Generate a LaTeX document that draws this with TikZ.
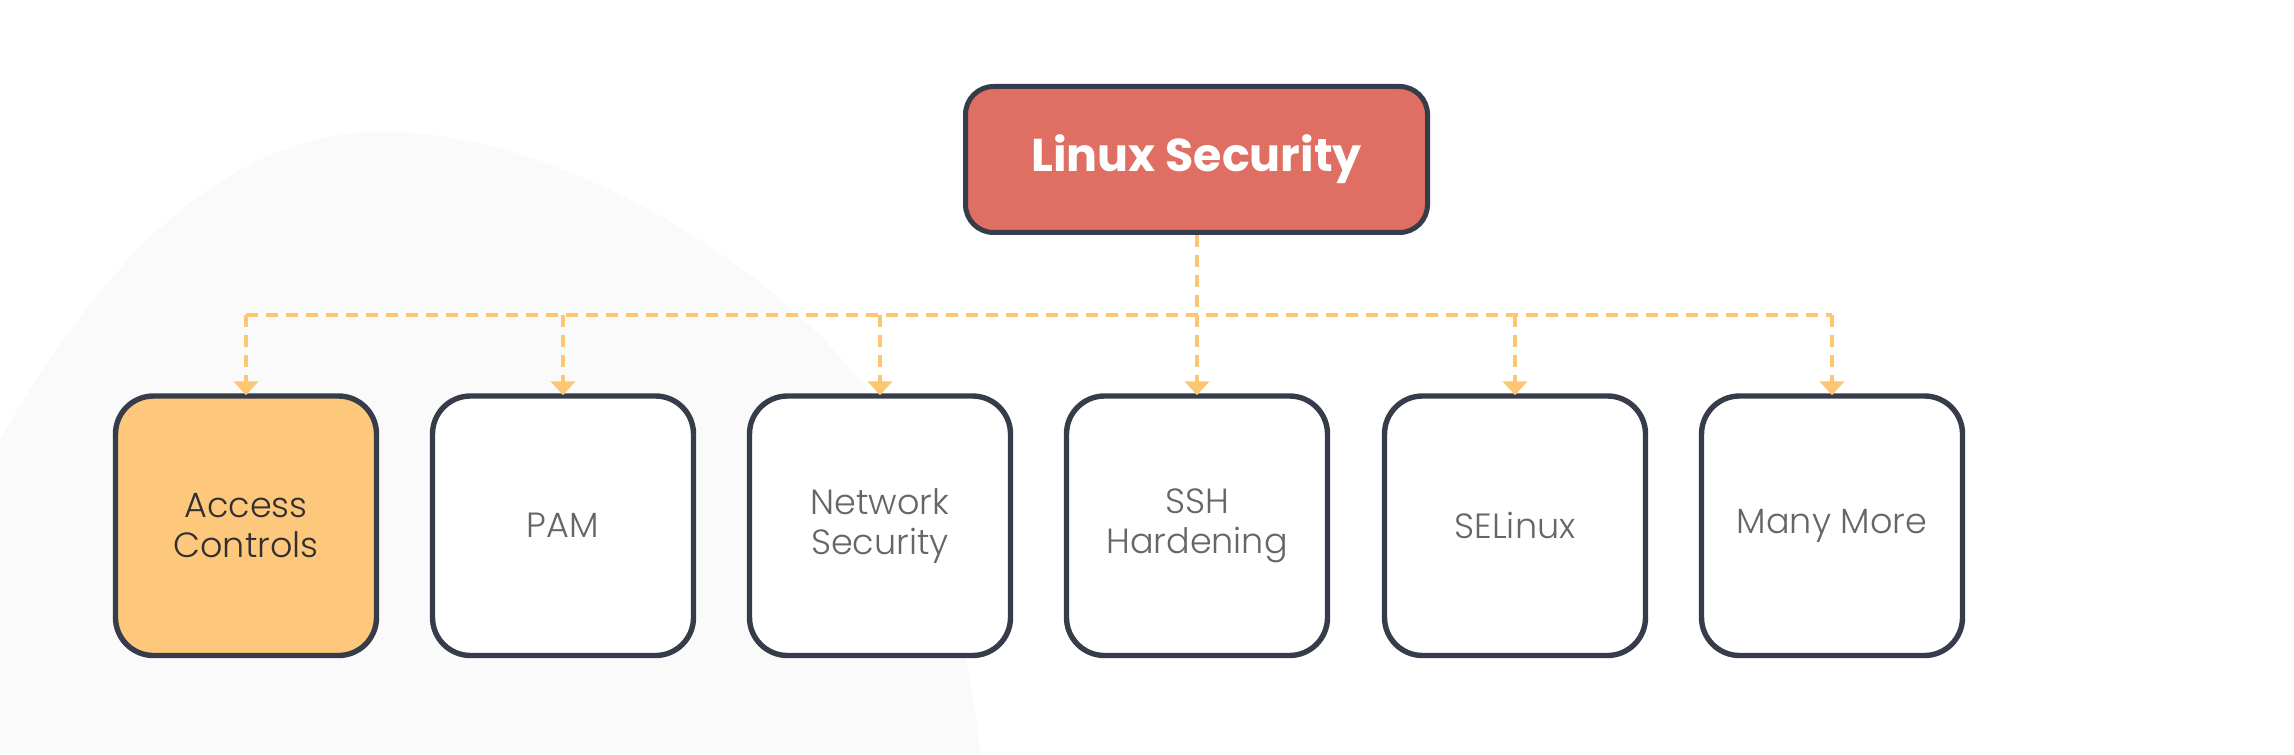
\documentclass[tikz,border=0pt]{standalone}
\usepackage{fontspec}
\setmainfont{Poppins}[UprightFont=* Light]
\newfontfamily\boldfont{Poppins}[UprightFont=* Bold]
\usetikzlibrary{arrows.meta}
\definecolor{topred}{HTML}{DE6F62}
\definecolor{navy}{HTML}{363C4A}
\definecolor{orangefill}{HTML}{FEC87C}
\definecolor{dashorange}{HTML}{FCC672}
\definecolor{textgrey}{HTML}{666666}
\definecolor{textdark}{HTML}{303030}
\definecolor{blob}{HTML}{FAFAFB}
\tikzset{
  topbox/.style={draw=navy, line width=2.5pt, fill=topred, rounded corners=14pt,
    minimum width=231pt, minimum height=73pt, inner sep=0pt,
    text=white, font=\boldfont\fontsize{23}{27}\selectfont},
  subbox/.style={draw=navy, line width=2.7pt, fill=white, rounded corners=19pt,
    minimum width=130.5pt, minimum height=129.75pt, inner sep=0pt,
    align=center, text=textgrey, font=\fontsize{17.5}{20}\selectfont},
  hilite/.style={fill=orangefill, text=textdark},
  link/.style={draw=dashorange, line width=2pt, dash pattern=on 6pt off 4pt},
  linkarrow/.style={link, -{Triangle[width=12pt,length=7pt]}, shorten >=-1pt}
}
\begin{document}
\begin{tikzpicture}[x=0.5pt, y=-0.5pt]
\useasboundingbox (0,0) rectangle (2294,754);
\fill[white] (0,0) rectangle (2294,754);
% faint background blob
\fill[blob] (0,440) .. controls (80,300) and (200,140) .. (370,132)
  .. controls (560,125) and (800,280) .. (880,410)
  .. controls (940,520) and (970,650) .. (980,754) -- (0,754) -- cycle;

\node[topbox] (top) at (1196.5,159.5) {Linux Security};

\node[subbox, hilite] (b1) at (246,525.75) {Access\\Controls};
\node[subbox] (b2) at (563,525.75) {PAM};
\node[subbox] (b3) at (880,525.75) {Network\\Security};
\node[subbox] (b4) at (1197,525.75) {SSH\\Hardening};
\node[subbox] (b5) at (1515,525.75) {SELinux};
\node[subbox] (b6) at (1832,525.75) {Many More};

\coordinate (j) at (1197,315);

\draw[link] (b1.north |- j) -- (b6.north |- j);
\draw[linkarrow] (top.south -| b4.north) -- (b4.north);
\foreach \b in {b1,b2,b3,b5,b6}
  \draw[linkarrow] (\b.north |- j) -- (\b.north);
\end{tikzpicture}
\end{document}
